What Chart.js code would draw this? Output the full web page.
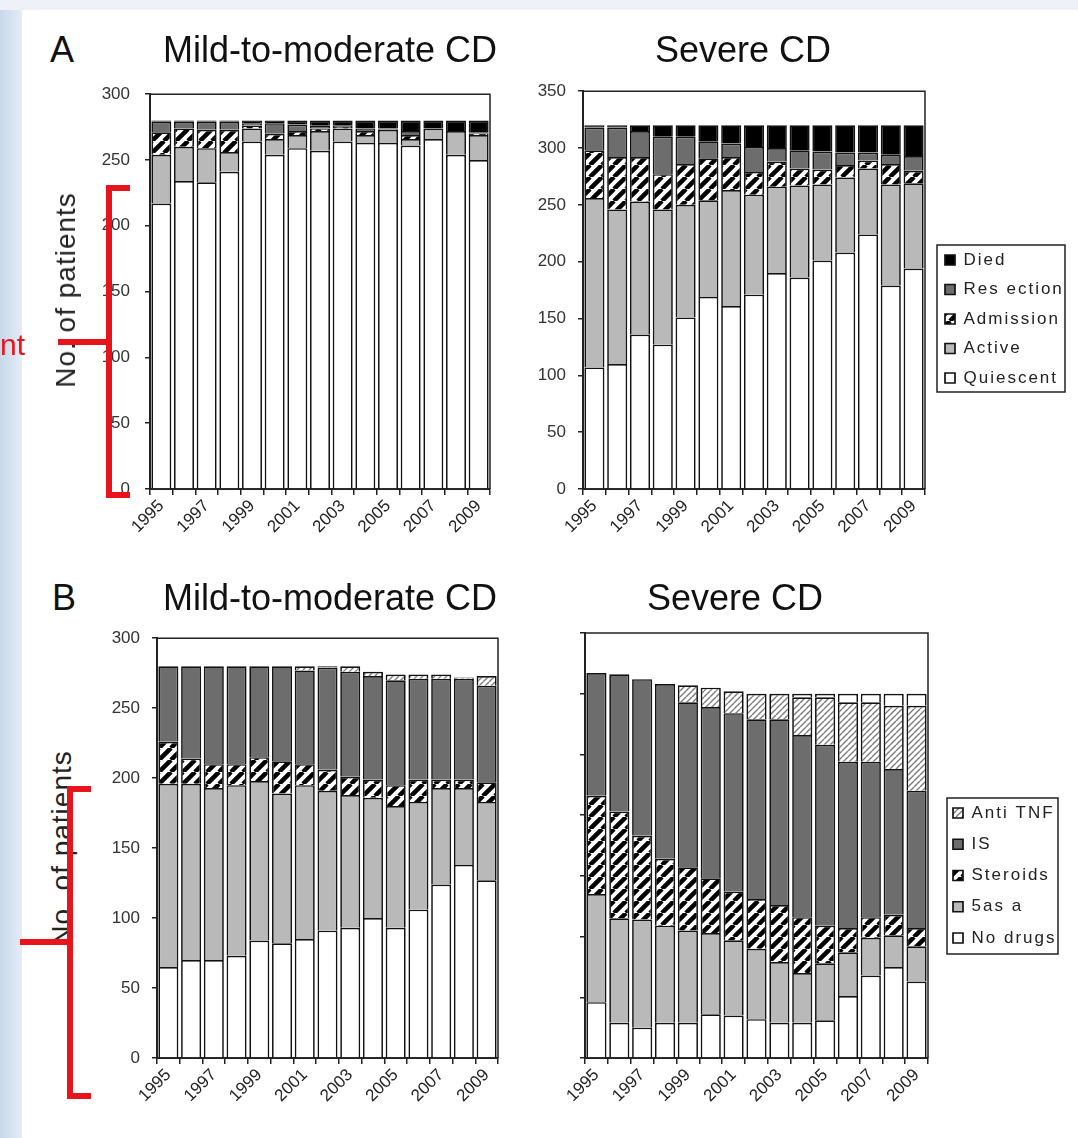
<!DOCTYPE html>
<html>
<head>
<meta charset="utf-8">
<script src="https://cdn.jsdelivr.net/npm/chart.js@4.4.1/dist/chart.umd.min.js"></script>
<style>
  body { margin: 0; width: 1078px; height: 1138px; background: #fff; position: relative; overflow: hidden;
         font-family: "Liberation Sans", Arial, sans-serif; }
  canvas { position: absolute; z-index: 1; }
  .strip-left { position: absolute; left: 0; top: 0; width: 22px; height: 1138px;
                background: linear-gradient(to right, #c8d7ea, #e4ecf6); }
  .strip-top { position: absolute; left: 0; top: 0; width: 1078px; height: 10px; background: #eef2f8; }
  .title { position: absolute; font-size: 36px; line-height: 36px; color: #111; white-space: nowrap; z-index: 2; }
  .ytitle { position: absolute; font-size: 28px; letter-spacing: 1px; color: #222; white-space: nowrap; z-index: 2;
            transform: translate(-50%, -50%) rotate(-90deg); }
  .red { position: absolute; background: #e8141c; z-index: 3; }
  .redtext { position: absolute; color: #e8141c; font-size: 30px; line-height: 30px; z-index: 3; }
</style>
</head>
<body>
<div class="strip-left"></div>
<div class="strip-top"></div>

<div class="title" style="left:50px; top:32px;">A</div>
<div class="title" style="left:163px; top:32px;">Mild-to-moderate CD</div>
<div class="title" style="left:655px; top:32px;">Severe CD</div>
<div class="title" style="left:52px; top:580px;">B</div>
<div class="title" style="left:163px; top:580px;">Mild-to-moderate CD</div>
<div class="title" style="left:647px; top:580px;">Severe CD</div>

<div class="ytitle" style="left:66px; top:290px;">No. of patients</div>
<div class="ytitle" style="left:62px; top:848px;">No. of patients</div>

<canvas id="chartA1" width="430" height="480" style="left:80px; top:69px;"></canvas>
<canvas id="chartA2" width="545" height="480" style="left:530px; top:69px;"></canvas>
<canvas id="chartB1" width="431" height="502" style="left:87px; top:616px;"></canvas>
<canvas id="chartB2" width="538" height="505" style="left:530px; top:613px;"></canvas>

<!-- red annotation marks on top of the slide -->
<div class="red" style="left:106px; top:185px; width:6px; height:313px;"></div>
<div class="red" style="left:106px; top:185px; width:24px; height:6px;"></div>
<div class="red" style="left:106px; top:492px; width:24px; height:6px;"></div>
<div class="red" style="left:58px; top:339px; width:50px; height:6px;"></div>
<div class="redtext" style="left:0px; top:330px;">nt</div>

<div class="red" style="left:67px; top:786px; width:6px; height:313px;"></div>
<div class="red" style="left:67px; top:786px; width:24px; height:6px;"></div>
<div class="red" style="left:67px; top:1093px; width:24px; height:6px;"></div>
<div class="red" style="left:20px; top:939px; width:50px; height:6px;"></div>

<script>
const FONT = "'Liberation Sans', Arial, sans-serif";

const years = ["1995", "1996", "1997", "1998", "1999", "2000", "2001", "2002",
               "2003", "2004", "2005", "2006", "2007", "2008", "2009"];

// A - outcome, mild-to-moderate CD
const mildQuiescent = [217, 234, 233, 241, 264, 254, 259, 257, 264, 263, 263, 261, 266, 254, 250];
const mildActive    = [37, 26, 26, 15, 10, 12, 10, 15, 10, 6, 10, 5, 8, 18, 19];
const mildAdmission = [17, 14, 14, 17, 2, 4, 3, 2, 1, 3, 0, 3, 0, 0, 1];
const mildResection = [8, 5, 6, 6, 2, 8, 5, 2, 1, 2, 1, 3, 0, 0, 1];
const mildDied      = [1, 1, 1, 1, 2, 2, 3, 4, 4, 6, 6, 8, 6, 8, 9];

// A - outcome, severe CD
const sevQuiescent = [107, 110, 136, 127, 151, 169, 161, 171, 190, 186, 201, 208, 224, 179, 194];
const sevActive    = [149, 136, 117, 119, 99, 85, 102, 88, 76, 81, 67, 66, 58, 89, 75];
const sevAdmission = [42, 46, 39, 31, 36, 37, 29, 20, 22, 15, 13, 11, 7, 18, 11];
const sevResection = [20, 26, 23, 33, 24, 15, 12, 22, 12, 16, 16, 11, 7, 8, 13];
const sevDied      = [2, 2, 5, 10, 10, 14, 16, 19, 20, 22, 23, 24, 24, 26, 27];

// B - drugs, mild-to-moderate CD
const mildNoDrugs  = [65, 70, 70, 73, 84, 82, 85, 91, 93, 100, 93, 106, 124, 138, 127];
const mild5asa     = [131, 126, 123, 122, 114, 107, 110, 100, 95, 86, 87, 77, 69, 55, 56];
const mildSteroids = [30, 18, 17, 15, 17, 23, 15, 15, 13, 13, 15, 16, 6, 6, 14];
const mildIS       = [54, 66, 70, 70, 65, 68, 67, 73, 75, 74, 75, 72, 72, 72, 69];
const mildAntiTNF  = [0, 0, 0, 0, 0, 0, 3, 1, 4, 3, 4, 3, 3, 1, 7];

// B - drugs, severe CD
const sevNoDrugs  = [46, 29, 25, 29, 29, 36, 35, 32, 29, 29, 31, 51, 68, 75, 63];
const sev5asa     = [89, 86, 89, 80, 76, 67, 62, 58, 50, 41, 47, 36, 31, 26, 29];
const sevSteroids = [81, 88, 69, 55, 52, 45, 40, 41, 47, 46, 31, 20, 17, 17, 15];
const sevIS       = [101, 113, 129, 144, 136, 141, 147, 148, 153, 150, 149, 137, 128, 120, 113];
const sevAntiTNF  = [0, 0, 0, 0, 14, 16, 18, 21, 21, 31, 39, 49, 49, 52, 70];
const sevBlank    = [0, 0, 0, 0, 0, 0, 0, 0, 0, 3, 3, 7, 7, 10, 10];

const DARK = "#6d6d6d";
const LIGHT = "#b9b9b9";

function stripes(fg, bg, size, lw) {
  const c = document.createElement("canvas");
  c.width = size;
  c.height = size;
  const g = c.getContext("2d");
  g.fillStyle = bg;
  g.fillRect(0, 0, size, size);
  g.strokeStyle = fg;
  g.lineWidth = lw;
  g.beginPath();
  for (const o of [-size, 0, size]) {
    g.moveTo(o, size);
    g.lineTo(o + size, 0);
  }
  g.stroke();
  return g.createPattern(c, "repeat");
}

const HATCH = stripes("#000", "#fff", 12, 4.5);
const THIN_HATCH = stripes("#7a7a7a", "#fff", 6, 1.4);

function ds(label, data, fill) {
  return {
    label: label,
    data: data,
    backgroundColor: fill,
    borderColor: "#111",
    borderWidth: 1.7,
    barPercentage: 0.88,
    categoryPercentage: 1.0,
  };
}

// top and right edge of the plot area
const framePlugin = {
  id: "frame",
  afterDraw(chart) {
    const { ctx, chartArea: a } = chart;
    ctx.save();
    ctx.strokeStyle = "#222";
    ctx.lineWidth = 1.5;
    ctx.beginPath();
    ctx.moveTo(a.left, a.top);
    ctx.lineTo(a.right, a.top);
    ctx.lineTo(a.right, a.bottom);
    ctx.stroke();
    ctx.restore();
  },
};

// fixed legend width, spaced text and a box around the items
const legendBoxPlugin = {
  id: "legendBox",
  beforeLayout(chart, args, opts) {
    const lg = chart.legend;
    if (!lg || lg._fixed || !opts.width) return;
    const fit = lg.fit;
    const draw = lg.draw;
    lg.fit = function () {
      fit.call(this);
      this.width = opts.width;
    };
    lg.draw = function () {
      const c = this.ctx;
      c.save();
      c.letterSpacing = "2px";
      draw.call(this);
      c.restore();
    };
    lg._fixed = true;
  },
  afterLayout(chart, args, opts) {
    const lg = chart.legend;
    if (lg && opts.width) {
      lg.left += opts.shift;
      lg.right += opts.shift;
    }
  },
  afterDraw(chart, args, opts) {
    const lg = chart.legend;
    if (!lg || !opts.width || !lg.legendHitBoxes || !lg.legendHitBoxes.length) return;
    const hb = lg.legendHitBoxes;
    const first = hb[0];
    const last = hb[hb.length - 1];
    const top = first.top + opts.y0;
    const bottom = last.top + last.height + opts.y1;
    const ctx = chart.ctx;
    ctx.save();
    ctx.strokeStyle = "#222";
    ctx.lineWidth = 1.5;
    ctx.strokeRect(first.left + opts.x0, top, opts.w, bottom - top);
    ctx.restore();
  },
};

function makeChart(id, datasets, cfg) {
  const ctx = document.getElementById(id).getContext("2d");
  return new Chart(ctx, {
    type: "bar",
    data: { labels: years, datasets: datasets },
    plugins: [framePlugin, legendBoxPlugin],
    options: {
      responsive: false,
      animation: false,
      devicePixelRatio: 1,
      layout: { padding: { top: 20, right: cfg.padRight, left: 0, bottom: 0 }, autoPadding: false },
      plugins: {
        title: { display: false },
        tooltip: { enabled: false },
        legend: cfg.legend
          ? {
              display: true,
              position: "right",
              reverse: true,
              labels: {
                boxWidth: 10,
                boxHeight: 10,
                padding: cfg.legend.padding,
                color: "#222",
                font: { size: 17, family: FONT },
                filter: (item) => item.text !== "",
              },
            }
          : { display: false },
        legendBox: cfg.legend || {},
      },
      scales: {
        x: {
          stacked: true,
          afterFit: (s) => {
            s.height = 60;
          },
          grid: { offset: true, drawOnChartArea: false, tickLength: 6, color: "#222", lineWidth: 1.5 },
          border: { color: "#222", width: 2 },
          ticks: {
            autoSkip: false,
            maxRotation: 45,
            minRotation: 45,
            padding: 1,
            color: "#222",
            font: { size: 17, family: FONT },
            callback: function (v, i) {
              return i % 2 === 0 ? this.getLabelForValue(v) : "";
            },
          },
        },
        y: {
          stacked: true,
          min: 0,
          max: cfg.max,
          afterFit: (s) => {
            s.width = cfg.yWidth;
          },
          grid: { drawOnChartArea: false, tickLength: 5, color: "#222", lineWidth: 1.5 },
          border: { color: "#222", width: 2 },
          ticks: {
            stepSize: 50,
            display: cfg.yLabels,
            padding: cfg.yPad,
            color: "#333",
            font: { size: 17, family: FONT },
          },
        },
      },
    },
  });
}

makeChart(
  "chartA1",
  [
    ds("Quiescent", mildQuiescent, "#fff"),
    ds("Active", mildActive, LIGHT),
    ds("Admission", mildAdmission, HATCH),
    ds("Res ection", mildResection, DARK),
    ds("Died", mildDied, "#000"),
  ],
  { max: 300, yWidth: 70, yPad: 15, yLabels: true, padRight: 20 }
);

makeChart(
  "chartA2",
  [
    ds("Quiescent", sevQuiescent, "#fff"),
    ds("Active", sevActive, LIGHT),
    ds("Admission", sevAdmission, HATCH),
    ds("Res ection", sevResection, DARK),
    ds("Died", sevDied, "#000"),
  ],
  {
    max: 350, yWidth: 53, yPad: 12, yLabels: true, padRight: 0,
    legend: { width: 150, shift: 7.5, padding: 12.5, x0: -8, y0: -6.5, w: 128, y1: 5.5 },
  }
);

makeChart(
  "chartB1",
  [
    ds("No drugs", mildNoDrugs, "#fff"),
    ds("5as a", mild5asa, LIGHT),
    ds("Steroids", mildSteroids, HATCH),
    ds("IS", mildIS, DARK),
    ds("Anti TNF", mildAntiTNF, THIN_HATCH),
  ],
  { max: 300, yWidth: 70, yPad: 12, yLabels: true, padRight: 20 }
);

makeChart(
  "chartB2",
  [
    ds("No drugs", sevNoDrugs, "#fff"),
    ds("5as a", sev5asa, LIGHT),
    ds("Steroids", sevSteroids, HATCH),
    ds("IS", sevIS, DARK),
    ds("Anti TNF", sevAntiTNF, THIN_HATCH),
    ds("", sevBlank, "#fff"),
  ],
  {
    max: 350, yWidth: 55, yPad: 12, yLabels: false, padRight: 0,
    legend: { width: 140, shift: 10.75, padding: 14.25, x0: -6, y0: -6.5, w: 111, y1: 7.5 },
  }
);
</script>
</body>
</html>
